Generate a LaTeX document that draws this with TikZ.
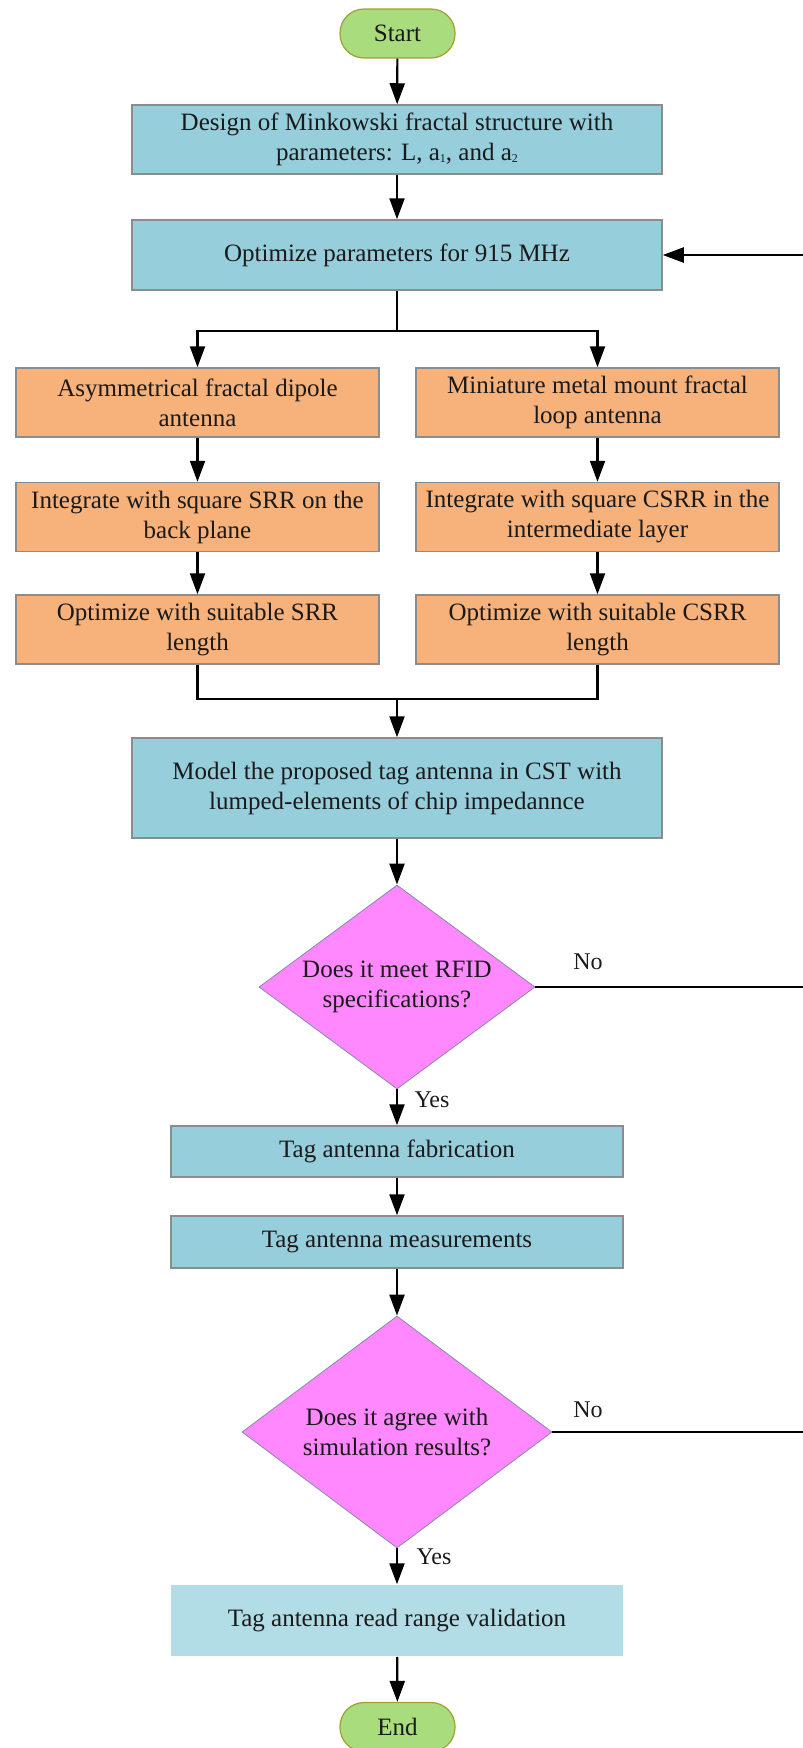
\documentclass[tikz,border=0pt]{standalone}
\usepackage{fontspec}
\setmainfont{Liberation Serif}
\usetikzlibrary{shapes.geometric,arrows.meta}
\definecolor{procblue}{HTML}{97CEDC}
\definecolor{lightblue}{HTML}{B3DDE6}
\definecolor{procorange}{HTML}{F7B27B}
\definecolor{decpink}{HTML}{FF88FF}
\definecolor{termgreen}{HTML}{A8DC7C}
\definecolor{termedge}{HTML}{A0A030}
\definecolor{boxedge}{HTML}{8C8C8C}
\definecolor{decedge}{HTML}{8888AA}
\definecolor{ink}{HTML}{1A1A1A}
% small index digit used in the parameter names
\newcommand{\tinyidx}[1]{\raisebox{-1.5pt}{\fontsize{12}{12}\selectfont #1}}
\begin{document}
\begin{tikzpicture}[x=1pt,y=-1pt,
  font=\fontsize{25}{30}\selectfont, text=ink,
  terminal/.style={draw=termedge, line width=1.2pt, fill=termgreen,
    rounded corners=24pt, minimum width=115pt, minimum height=49pt, inner sep=0pt},
  mainbox/.style={draw=boxedge, line width=1.5pt, fill=procblue, align=center,
    minimum width=530pt, inner sep=0pt},
  sidebox/.style={draw=boxedge, line width=1.5pt, fill=procorange, align=center,
    minimum width=363pt, minimum height=69pt, inner sep=0pt},
  tagbox/.style={draw=boxedge, line width=1.5pt, fill=procblue, align=center,
    minimum width=452pt, inner sep=0pt},
  decision/.style={diamond, draw=decedge, line width=0.8pt, fill=decpink,
    align=center, inner sep=0pt},
  lbl/.style={font=\fontsize{24}{28}\selectfont, inner sep=0pt},
  link/.style={line width=2.2pt, draw=black},
  arr/.style={link, -{Triangle[length=21pt,width=15pt]}}]
\useasboundingbox (0,0) rectangle (803,1748);

% terminals
\node[terminal] (start) at (397.5,33.5) {Start};
\node[terminal] (end) at (397.5,1727) {End};

% main process boxes
\node[mainbox, minimum height=69pt] (design) at (397,139.5)
  {Design of Minkowski fractal structure with\\parameters: L, a\tinyidx{1}, and a\tinyidx{2}};
\node[mainbox, minimum height=70pt] (opt) at (397,255) {Optimize parameters for 915 MHz};

% two antenna branches
\node[sidebox] (l1) at (197.5,402.5) {Asymmetrical fractal dipole\\antenna};
\node[sidebox] (l2) at (197.5,517) {Integrate with square SRR on the\\back plane};
\node[sidebox] (l3) at (197.5,629.5) {Optimize with suitable SRR\\length};
\node[sidebox] (r1) at (597.5,402.5) {Miniature metal mount fractal\\loop antenna};
\node[sidebox] (r2) at (597.5,517) {Integrate with square CSRR in the\\intermediate layer};
\node[sidebox] (r3) at (597.5,629.5) {Optimize with suitable CSRR\\length};

\node[mainbox, minimum height=100pt] (model) at (397,788)
  {Model the proposed tag antenna in CST with\\lumped-elements of chip impedannce};

% first decision
\node[decision, minimum width=276pt, minimum height=204pt, aspect=1.35] (d1) at (397,987)
  {Does it meet RFID\\specifications?};

\node[tagbox, minimum height=51pt] (fab) at (397,1151.5) {Tag antenna fabrication};
\node[tagbox, minimum height=52pt] (meas) at (397,1242) {Tag antenna measurements};

% second decision
\node[decision, minimum width=310pt, minimum height=232pt, aspect=1.34] (d2) at (397,1432)
  {Does it agree with\\simulation results?};

\node[tagbox, draw=none, fill=lightblue, minimum height=71pt] (read) at (397,1620.5)
  {Tag antenna read range validation};

% branch labels
\node[lbl] (no1) at (588,962) {No};
\node[lbl] (no2) at (588,1410) {No};
\node[lbl] (yes1) at (432,1100) {Yes};
\node[lbl] (yes2) at (434,1557) {Yes};

% junction points and loop-back ends
\coordinate (split) at (397,331);
\coordinate (merge) at (397,699);
\coordinate (back) at (803,255);
\coordinate (out1) at (803,987);
\coordinate (out2) at (803,1432);

% main flow
\draw[arr] (start) -- (design);
\draw[arr] (design) -- (opt);
\draw[link] (opt) -- (split);
\draw[arr] (split) -| (l1);
\draw[arr] (split) -| (r1);
\draw[arr] (l1) -- (l2);
\draw[arr] (l2) -- (l3);
\draw[arr] (r1) -- (r2);
\draw[arr] (r2) -- (r3);
\draw[link] (l3) |- (merge);
\draw[link] (r3) |- (merge);
\draw[arr] (merge) -- (model);
\draw[arr] (model) -- (d1);
\draw[arr] (d1) -- (fab);
\draw[arr] (fab) -- (meas);
\draw[arr] (meas) -- (d2);
\draw[arr] (d2) -- (read);
\draw[arr] (read) -- (end);

% rejection paths
\draw[link] (d1.east) -- (out1);
\draw[link] (d2.east) -- (out2);
\draw[arr] (back) -- (opt.east);
\end{tikzpicture}
\end{document}
